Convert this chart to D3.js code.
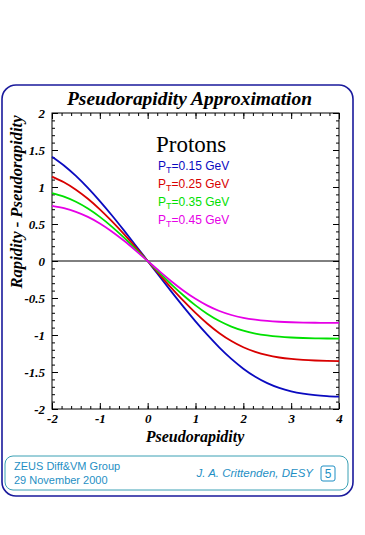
<!DOCTYPE html>
<html><head><meta charset="utf-8">
<script src="https://cdn.jsdelivr.net/npm/d3@7"></script>
<style>
html,body{margin:0;padding:0;background:#fff;}
svg{display:block;}
</style></head>
<body>
<svg id="c" width="365" height="535"></svg>
<script>
// ---- data ----
const eta = [-2,-1.75,-1.5,-1.25,-1,-0.75,-0.5,-0.25,0,0.25,0.5,0.75,1,1.25,1.5,1.75,2,2.25,2.5,2.75,3,3.25,3.5,3.75,4];
const pt015 = [1.410,1.2912,1.1495,0.9876,0.8092,0.6178,0.4170,0.2100,0,-0.2101,-0.4178,-0.6205,-0.8155,-0.9997,-1.1699,-1.3226,-1.4548,-1.5644,-1.6507,-1.7152,-1.7609,-1.7918,-1.8121,-1.8250,-1.8331];
const pt025 = [1.140,1.0637,0.9637,0.8409,0.6980,0.5381,0.3657,0.1850,0,-0.1850,-0.3662,-0.5398,-0.7019,-0.8484,-0.9761,-1.0823,-1.1662,-1.2290,-1.2736,-1.3039,-1.3237,-1.3364,-1.3443,-1.3492,-1.3522];
const pt035 = [0.918,0.8692,0.8001,0.7089,0.5963,0.4648,0.3184,0.1617,0,-0.1618,-0.3189,-0.4664,-0.6000,-0.7159,-0.8115,-0.8862,-0.9415,-0.9802,-1.0063,-1.0232,-1.0339,-1.0406,-1.0448,-1.0473,-1.0489];
const pt045 = [0.745,0.7130,0.6644,0.5962,0.5077,0.3998,0.2760,0.1409,0,-0.1410,-0.2765,-0.4015,-0.5115,-0.6033,-0.6758,-0.7298,-0.7679,-0.7936,-0.8104,-0.8211,-0.8277,-0.8318,-0.8344,-0.8359,-0.8369];
const seriesLabels = ["=0.15 GeV","=0.25 GeV","=0.35 GeV","=0.45 GeV"];
const seriesColors = ["#0a0ac0","#d80000","#00e000","#e600e6"];
const xTicks = [-2,-1,0,1,2,3,4];
const yTicks = [-2,-1.5,-1,-0.5,0,0.5,1,1.5,2];
const yTickLabels = ["-2","-1.5","-1","-0.5","0","0.5","1","1.5","2"];

const svg = d3.select("#c");
const serif = "'Liberation Serif','Times New Roman',serif";
const sans = "'Liberation Sans',Arial,sans-serif";

// frames
svg.append("rect").attr("x",2).attr("y",85).attr("width",351).attr("height",411)
  .attr("rx",14).attr("fill","none").attr("stroke","#1a1a9c").attr("stroke-width",1.6);
svg.append("rect").attr("x",5).attr("y",456).attr("width",343).attr("height",34)
  .attr("rx",8).attr("fill","none").attr("stroke","#3aa0b4").attr("stroke-width",1);

// title
svg.append("text").attr("x",189.5).attr("y",105).attr("text-anchor","middle")
  .attr("font-family",serif).attr("font-weight","bold").attr("font-style","italic")
  .attr("font-size",18).attr("textLength",245).attr("lengthAdjust","spacingAndGlyphs")
  .text("Pseudorapidity Approximation");

const x = d3.scaleLinear().domain([-2,4]).range([52,339]);
const y = d3.scaleLinear().domain([-2,2]).range([409,113]);

const g = svg.append("g");
g.append("rect").attr("x",x(-2)).attr("y",y(2)).attr("width",x(4)-x(-2)).attr("height",y(-2)-y(2))
  .attr("fill","none").attr("stroke","#000").attr("stroke-width",1);

const xMinor = d3.range(-2,4.001,0.2).map(v=>+v.toFixed(2));
const yMinor = d3.range(-2,2.001,0.1).map(v=>+v.toFixed(2));

function styleAxis(sel){ sel.select(".domain").remove(); sel.selectAll("line").attr("stroke","#000"); }

g.append("g").attr("transform",`translate(0,${y(-2)})`)
  .call(d3.axisBottom(x).tickValues(xMinor).tickSize(-3).tickFormat("")).call(styleAxis);
g.append("g").attr("transform",`translate(0,${y(-2)})`)
  .call(d3.axisBottom(x).tickValues(xTicks).tickSize(-6).tickFormat(d=>d))
  .call(styleAxis)
  .call(s=>s.selectAll("text").attr("y",5).attr("dy","0.71em").attr("font-family",serif)
    .attr("font-weight","bold").attr("font-style","italic").attr("font-size",13).attr("fill","#000"));
g.append("g").attr("transform",`translate(0,${y(2)})`)
  .call(d3.axisTop(x).tickValues(xMinor).tickSize(-3).tickFormat("")).call(styleAxis);
g.append("g").attr("transform",`translate(0,${y(2)})`)
  .call(d3.axisTop(x).tickValues(xTicks).tickSize(-6).tickFormat("")).call(styleAxis);

g.append("g").attr("transform",`translate(${x(-2)},0)`)
  .call(d3.axisLeft(y).tickValues(yMinor).tickSize(-3).tickFormat("")).call(styleAxis);
g.append("g").attr("transform",`translate(${x(-2)},0)`)
  .call(d3.axisLeft(y).tickValues(yTicks).tickSize(-6).tickFormat((d,i)=>yTickLabels[i]))
  .call(styleAxis)
  .call(s=>s.selectAll("text").attr("x",-7).attr("font-family",serif)
    .attr("font-weight","bold").attr("font-style","italic").attr("font-size",13).attr("fill","#000"));
g.append("g").attr("transform",`translate(${x(4)},0)`)
  .call(d3.axisRight(y).tickValues(yMinor).tickSize(-3).tickFormat("")).call(styleAxis);
g.append("g").attr("transform",`translate(${x(4)},0)`)
  .call(d3.axisRight(y).tickValues(yTicks).tickSize(-6).tickFormat("")).call(styleAxis);

// zero line
g.append("line").attr("x1",x(-2)).attr("x2",x(4)).attr("y1",y(0)).attr("y2",y(0))
  .attr("stroke","#000").attr("stroke-width",1);

// curves
const series = [pt015,pt025,pt035,pt045];
const line = d3.line().x((d,i)=>x(eta[i])).y(d=>y(d)).curve(d3.curveMonotoneX);
series.forEach((s,k)=>{
  g.append("path").attr("d",line(s)).attr("fill","none")
    .attr("stroke",seriesColors[k]).attr("stroke-width",1.8);
});

// axis labels
svg.append("text").attr("x",195).attr("y",442).attr("text-anchor","middle")
  .attr("font-family",serif).attr("font-weight","bold").attr("font-style","italic")
  .attr("font-size",16).text("Pseudorapidity");
svg.append("text").attr("transform","translate(22,202) rotate(-90)").attr("text-anchor","middle")
  .attr("font-family",serif).attr("font-weight","bold").attr("font-style","italic")
  .attr("font-size",16).attr("textLength",173).attr("lengthAdjust","spacingAndGlyphs")
  .text("Rapidity - Pseudorapidity");

// legend
svg.append("text").attr("x",156).attr("y",152).attr("font-family",serif)
  .attr("font-size",23).attr("fill","#000").text("Protons");
seriesLabels.forEach((lab,k)=>{
  const t = svg.append("text").attr("x",158).attr("y",170+18*k).attr("font-family",sans)
    .attr("font-size",12).attr("fill",seriesColors[k]);
  t.append("tspan").text("P");
  t.append("tspan").attr("font-size",9).attr("dy",3).text("T");
  t.append("tspan").attr("dy",-3).text(lab);
});

// footer
const fc = "#1f8fc4";
svg.append("text").attr("x",14).attr("y",470).attr("font-family",sans).attr("font-size",11)
  .attr("fill",fc).text("ZEUS Diff&VM Group");
svg.append("text").attr("x",14).attr("y",484).attr("font-family",sans).attr("font-size",11)
  .attr("fill",fc).text("29 November 2000");
svg.append("text").attr("x",313).attr("y",477).attr("text-anchor","end").attr("font-family",sans)
  .attr("font-style","italic").attr("font-size",11.5).attr("fill",fc).text("J. A. Crittenden, DESY");
svg.append("rect").attr("x",321).attr("y",466).attr("width",14).attr("height",15).attr("rx",2)
  .attr("fill","none").attr("stroke",fc).attr("stroke-width",1);
svg.append("text").attr("x",328).attr("y",478).attr("text-anchor","middle").attr("font-family",sans)
  .attr("font-size",12).attr("fill",fc).text("5");
</script>
</body></html>
